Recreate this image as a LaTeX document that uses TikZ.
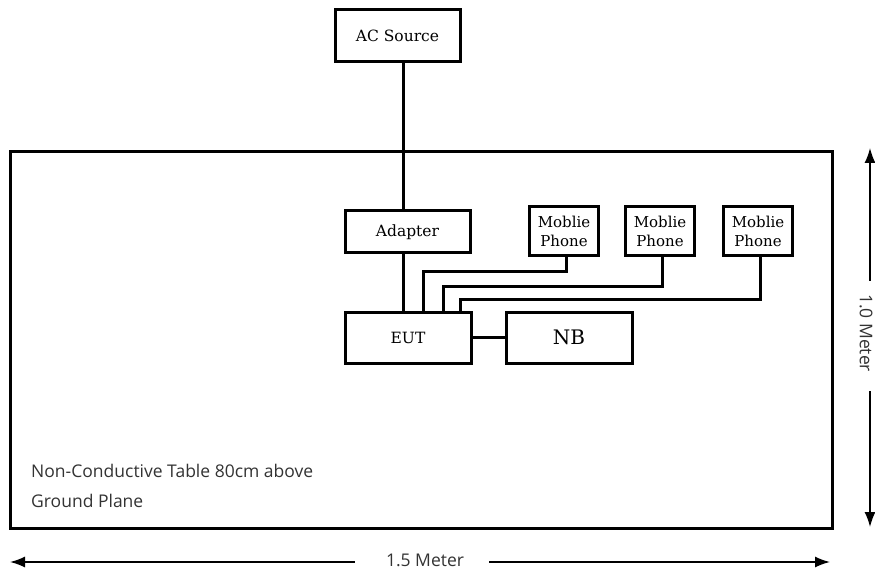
\documentclass[tikz,border=0pt]{standalone}
\usepackage{fontspec}
\setmainfont{DejaVu Serif}
\newfontfamily\labelfont{Open Sans}
\usepackage{tikz}
\usetikzlibrary{calc,arrows.meta,positioning}
\definecolor{inkgray}{HTML}{333333}
\tikzset{
  unit/.style={draw=black,line width=3pt,fill=white,align=center,inner sep=0pt,font=\fontsize{15.5}{17}\selectfont},
  wire/.style={line width=3pt,black},
  dimarr/.style={-{Latex[length=15pt,width=11pt]},line width=1.5pt,black},
  note/.style={font=\labelfont\fontsize{17.5}{19}\selectfont,text=inkgray,inner sep=0pt}
}
\begin{document}
\begin{tikzpicture}[x=1pt,y=-1pt]
\useasboundingbox (0,0) rectangle (875,569);
% table
\draw[line width=3pt] (10,152) rectangle (832,528);
\node[note,anchor=base west] (tbl1) at (31,477) {Non-Conductive Table 80cm above};
\node[note,anchor=base west] (tbl2) at (31,507) {Ground Plane};
% units
\node[unit,minimum width=125pt,minimum height=52pt] (ac) at (397.5,36) {AC Source};
\node[unit,minimum width=125pt,minimum height=42pt] (adapt) at (407.5,232) {Adapter};
\node[unit,minimum width=126pt,minimum height=51pt] (eut) at (408,337.5) {EUT};
\node[unit,minimum width=126pt,minimum height=51pt,font=\fontsize{20}{21}\selectfont] (nb) at (569,337.5) {NB};
\node[unit,minimum width=69pt,minimum height=49pt,font=\fontsize{15}{19}\selectfont] (ph1) at (564,231.5) {Moblie\\Phone};
\node[unit,minimum width=69pt,minimum height=49pt,font=\fontsize{15}{19}\selectfont] (ph2) at (660,231.5) {Moblie\\Phone};
\node[unit,minimum width=69pt,minimum height=49pt,font=\fontsize{15}{19}\selectfont] (ph3) at (758,231.5) {Moblie\\Phone};
% wiring
\draw[wire] ([xshift=-4pt]adapt.north) -- ([xshift=-4pt]adapt.north |- ac.south);
\draw[wire] ([xshift=-4pt]adapt.south) -- ([xshift=-4pt]adapt.south |- eut.north);
\draw[wire] (eut) -- (nb);
\draw[wire] ([xshift=2pt]ph1.south) |- ++(-100,14) -| ([xshift=15pt]eut.north);
\draw[wire] ([xshift=2pt]ph2.south) |- ++(-100,29) -| ([xshift=35pt]eut.north);
\draw[wire] ([xshift=2pt]ph3.south) |- ++(-100,42) -| ([xshift=52pt]eut.north);
% dimensions
\node[note,anchor=base] (wlbl) at (425,566) {1.5 Meter};
\coordinate (wl) at (10,562);
\coordinate (wr) at (830,562);
\draw[dimarr] ([xshift=-31pt]wlbl.west |- wl) -- (wl);
\draw[dimarr] ([xshift=25pt]wlbl.east |- wr) -- (wr);
\node[note,rotate=-90] (hlbl) at (866,333) {1.0 Meter};
\coordinate (ht) at (870,148);
\coordinate (hb) at (870,527);
\draw[dimarr] ([yshift=13pt]hlbl.west -| ht) -- (ht);
\draw[dimarr] ([yshift=-19pt]hlbl.east -| hb) -- (hb);
\end{tikzpicture}
\end{document}
